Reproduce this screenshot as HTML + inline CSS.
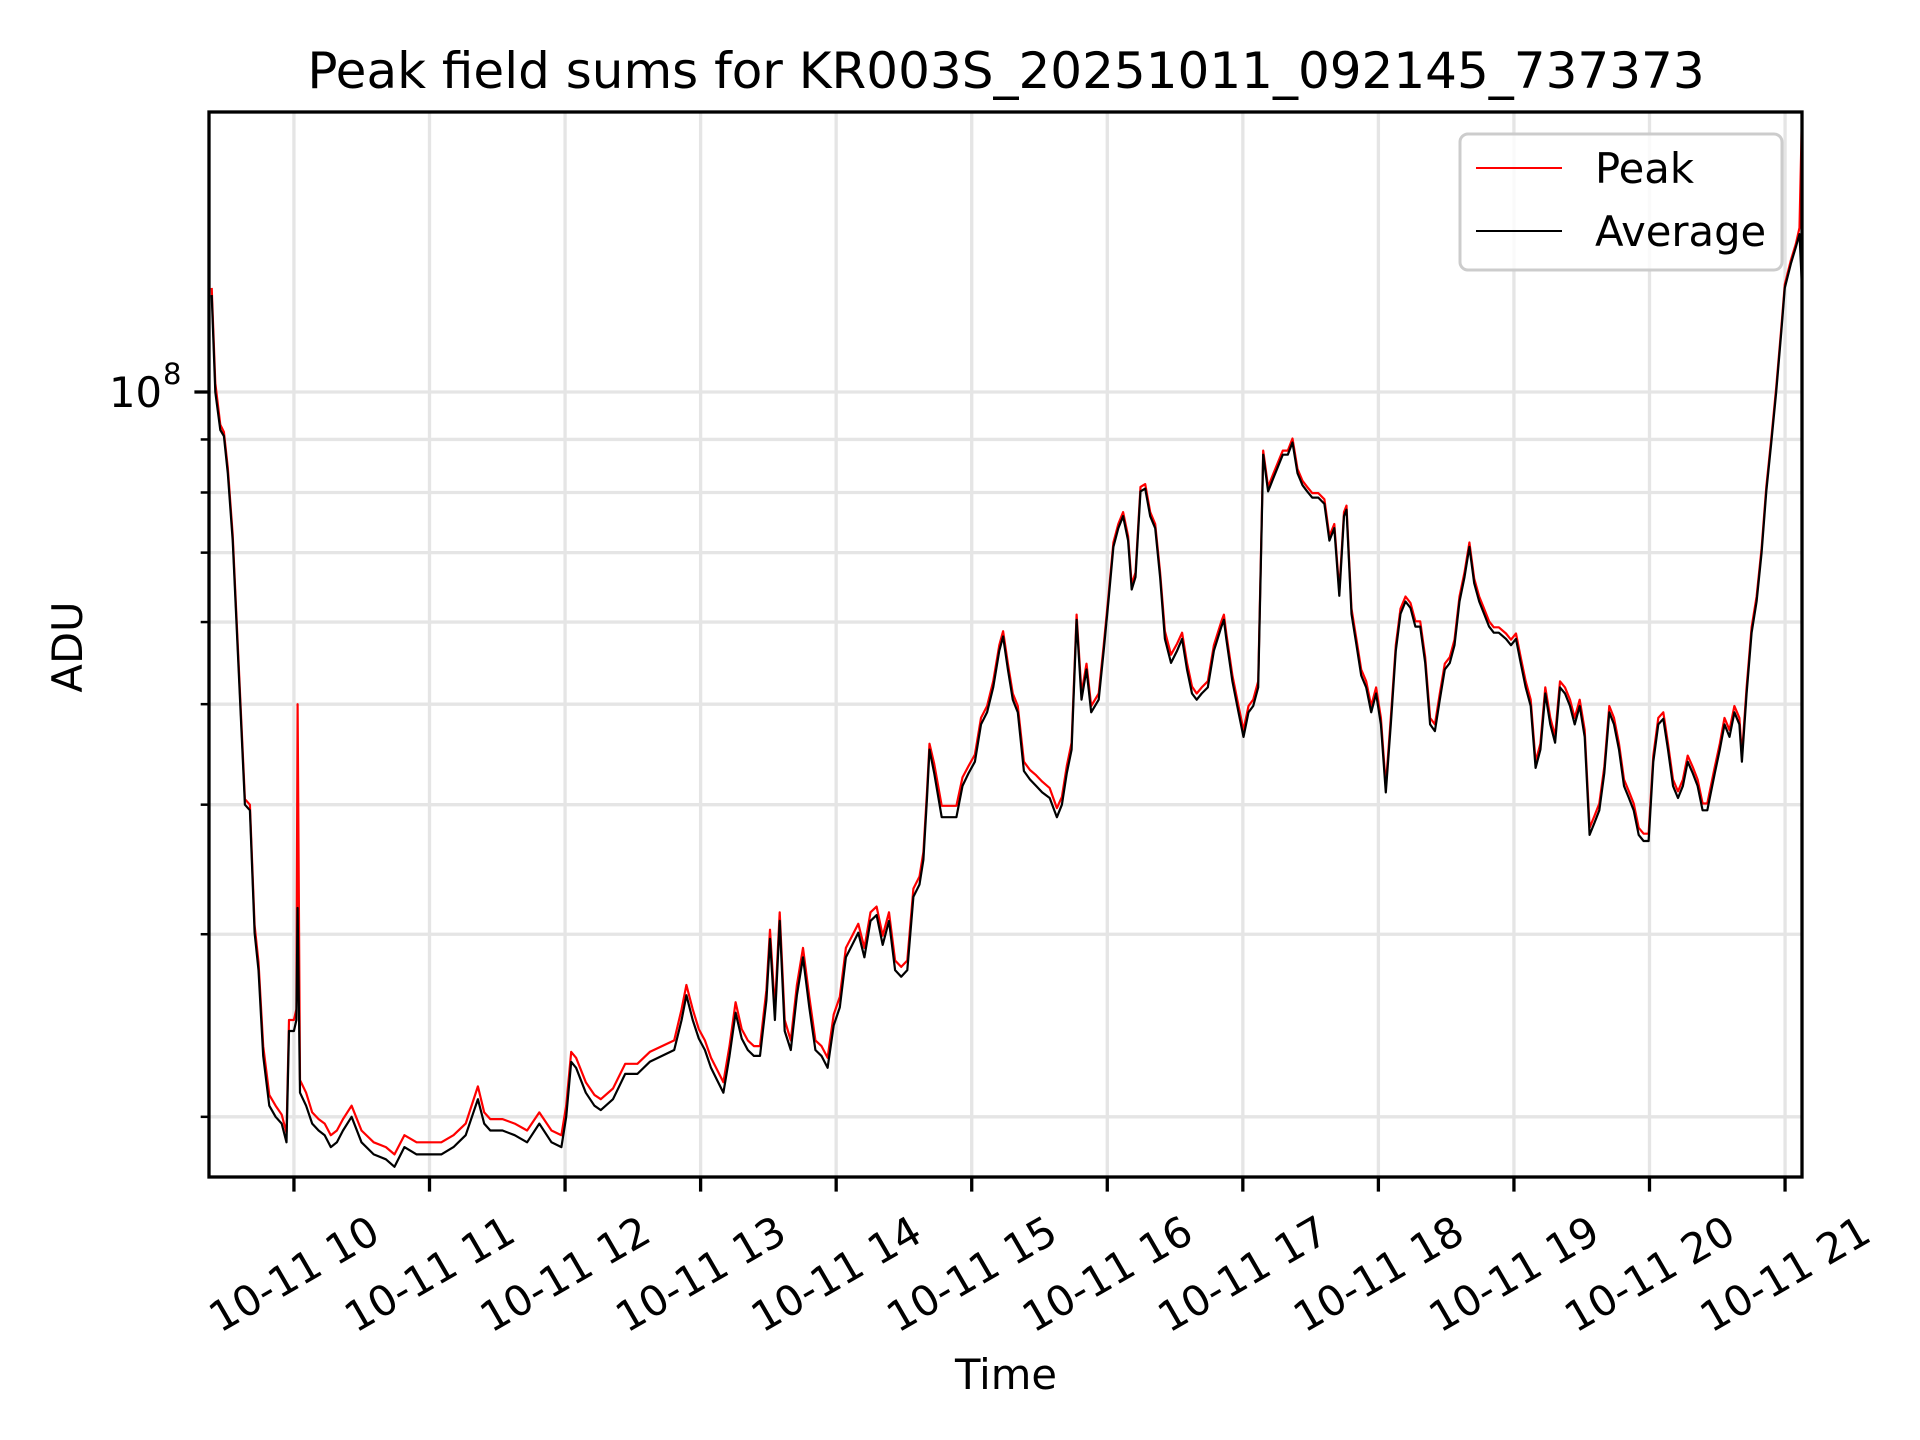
<!DOCTYPE html>
<html><head><meta charset="utf-8"><style>
html,body{margin:0;padding:0;background:#fff;}
svg{display:block;font-family:"DejaVu Sans","Liberation Sans",sans-serif;}
</style></head><body>
<svg id="chart" width="1920" height="1440" viewBox="0 0 1920 1440" xmlns="http://www.w3.org/2000/svg">
<rect x="0" y="0" width="1920" height="1440" fill="#fff"/>
<g id="grid"></g>
<g id="series"></g>
<g id="axes"></g>
<text x="1006" y="88" font-size="50" text-anchor="middle">Peak field sums for KR003S_20251011_092145_737373</text>
<text x="1006" y="1389" font-size="41.7" text-anchor="middle">Time</text>
<text x="0" y="0" font-size="41.7" text-anchor="middle" transform="translate(82,647) rotate(-90)">ADU</text>
<g>
<rect x="1460" y="134" width="322" height="136" rx="8" fill="#fff" fill-opacity="0.8" stroke="#cccccc" stroke-width="3"/>
<line x1="1476" y1="168" x2="1562" y2="168" stroke="#ff0000" stroke-width="2"/>
<text x="1595" y="183" font-size="41.7">Peak</text>
<line x1="1476" y1="231" x2="1562" y2="231" stroke="#000" stroke-width="2"/>
<text x="1595" y="246" font-size="41.7">Average</text>
</g>
</svg>
<script>
// time in minutes after 09:00, values in units of 1e7 ADU
const times = [23.6,25.2,27.4,29.0,30.7,32.9,35.0,38.3,40.5,42.6,44.3,46.4,49.1,51.9,54.6,56.7,57.8,60.0,61.1,61.6,62.7,65.4,68.1,70.9,73.6,76.3,79.0,81.7,85.5,89.9,95.3,100.7,104.5,108.9,114.3,119.7,125.2,130.6,136.0,141.4,144.2,146.9,152.3,157.7,163.2,168.6,174.0,178.4,180.5,182.7,184.9,189.2,193.0,195.8,201.2,206.6,212.0,217.5,222.9,228.3,231.6,233.7,236.5,239.2,241.9,244.6,247.3,250.1,252.8,255.5,258.2,260.9,263.6,266.3,269.1,270.7,272.9,275.0,277.2,279.9,282.6,285.3,288.1,290.8,293.5,296.2,298.9,301.6,304.3,307.1,309.8,312.5,315.2,317.9,320.6,323.4,326.1,328.8,331.5,334.2,336.9,338.6,340.2,341.3,343.4,346.7,350.5,353.2,355.9,358.6,361.4,364.1,366.8,369.5,372.2,373.9,376.0,378.2,380.4,383.1,385.8,388.5,391.2,394.5,397.7,399.9,402.1,404.2,406.4,408.6,410.8,412.9,416.2,418.4,420.5,422.7,424.9,427.0,429.2,430.8,432.5,434.7,436.8,439.0,441.2,443.4,445.5,448.2,450.9,453.1,455.3,457.5,459.6,461.8,464.5,467.2,470.5,471.6,472.7,475.4,478.1,480.3,482.5,484.6,486.8,489.0,491.2,493.3,495.5,497.7,499.9,502.0,504.2,506.4,508.5,510.7,513.4,516.1,518.3,520.5,522.7,524.8,525.9,528.1,530.3,532.4,534.6,536.8,539.0,541.1,543.3,545.5,547.7,549.8,552.0,554.2,556.4,558.5,560.7,562.9,565.0,567.2,569.4,571.6,573.7,575.9,578.1,580.3,582.4,584.6,586.8,589.0,591.1,593.3,596.5,598.7,600.9,603.0,605.2,607.4,609.6,611.7,613.9,616.1,618.2,620.4,622.6,624.8,626.9,629.1,631.3,633.5,635.6,637.8,640.0,642.2,644.3,646.5,648.7,650.9,653.0,655.2,657.4,659.6,661.7,663.9,666.1,668.2,670.4,672.6,674.8,676.9,679.1,681.3,683.5,685.6,688.9,691.1,693.2,695.4,697.6,699.8,700.9,703.0,705.2,707.4,709.6,711.7,713.9,716.1,718.3,719.9,722.6,724.8,726.4,727.5];
const averageValues = [12.4,10.0,9.19,9.07,8.35,7.19,5.70,4.00,3.95,3.01,2.77,2.29,2.05,2.00,1.97,1.89,2.42,2.42,2.48,3.18,2.11,2.05,1.97,1.94,1.92,1.87,1.89,1.94,2.00,1.89,1.84,1.82,1.79,1.87,1.84,1.84,1.84,1.87,1.92,2.08,1.97,1.94,1.94,1.92,1.89,1.97,1.89,1.87,2.00,2.26,2.23,2.11,2.05,2.03,2.08,2.20,2.20,2.26,2.29,2.32,2.48,2.62,2.48,2.38,2.32,2.23,2.17,2.11,2.29,2.52,2.38,2.32,2.29,2.29,2.59,2.97,2.48,3.09,2.42,2.32,2.62,2.85,2.55,2.32,2.29,2.23,2.45,2.55,2.85,2.93,3.01,2.85,3.09,3.13,2.93,3.09,2.77,2.73,2.77,3.26,3.35,3.54,4.06,4.52,4.29,3.89,3.89,3.89,4.17,4.29,4.40,4.78,4.91,5.19,5.63,5.81,5.40,5.05,4.91,4.31,4.23,4.17,4.11,4.06,3.89,4.00,4.29,4.52,6.03,5.05,5.40,4.91,5.05,5.63,6.28,7.09,7.39,7.59,7.19,6.45,6.63,8.02,8.07,7.59,7.39,6.63,5.78,5.48,5.63,5.78,5.40,5.12,5.05,5.12,5.19,5.63,5.94,6.03,5.78,5.26,4.91,4.65,4.91,4.98,5.19,8.70,8.02,8.24,8.47,8.70,8.70,8.94,8.35,8.13,8.02,7.91,7.91,7.80,7.19,7.39,6.36,7.59,7.70,6.11,5.70,5.33,5.19,4.91,5.12,4.78,4.11,4.78,5.63,6.11,6.28,6.19,5.94,5.94,5.48,4.78,4.71,5.05,5.40,5.48,5.70,6.28,6.63,7.09,6.54,6.28,6.11,5.94,5.86,5.86,5.78,5.70,5.78,5.48,5.19,4.98,4.34,4.52,5.12,4.78,4.59,5.19,5.12,4.98,4.78,4.98,4.65,3.74,3.84,3.95,4.29,4.91,4.78,4.52,4.17,4.06,3.95,3.74,3.69,3.69,4.40,4.78,4.84,4.52,4.17,4.06,4.17,4.40,4.29,4.17,3.95,3.95,4.29,4.52,4.78,4.65,4.91,4.78,4.40,5.12,5.86,6.28,7.00,8.02,8.94,10.0,11.4,12.6,13.3,13.8,14.2,12.6];
const peakValues = [12.6,10.2,9.30,9.15,8.45,7.28,5.78,4.05,4.00,3.06,2.82,2.34,2.10,2.05,2.01,1.93,2.48,2.48,2.54,5.00,2.17,2.11,2.02,1.99,1.97,1.92,1.94,1.99,2.05,1.94,1.89,1.87,1.84,1.92,1.89,1.89,1.89,1.92,1.97,2.14,2.02,1.99,1.99,1.97,1.94,2.02,1.94,1.92,2.05,2.31,2.28,2.16,2.10,2.08,2.13,2.25,2.25,2.31,2.34,2.37,2.54,2.68,2.54,2.43,2.37,2.28,2.22,2.16,2.34,2.58,2.43,2.37,2.34,2.34,2.65,3.03,2.54,3.15,2.48,2.37,2.68,2.91,2.61,2.37,2.34,2.28,2.51,2.61,2.91,2.99,3.07,2.91,3.15,3.19,2.99,3.15,2.83,2.79,2.83,3.32,3.41,3.60,4.12,4.58,4.38,3.99,3.99,3.99,4.25,4.36,4.47,4.85,4.98,5.26,5.70,5.88,5.47,5.12,4.98,4.40,4.32,4.27,4.21,4.15,3.97,4.07,4.36,4.59,6.10,5.12,5.47,4.98,5.12,5.70,6.35,7.16,7.46,7.66,7.26,6.52,6.70,8.10,8.15,7.66,7.46,6.70,5.88,5.58,5.72,5.86,5.48,5.20,5.12,5.19,5.26,5.70,6.01,6.10,5.85,5.33,4.98,4.72,4.98,5.05,5.26,8.78,8.10,8.32,8.55,8.78,8.78,9.02,8.43,8.21,8.10,7.99,7.99,7.88,7.26,7.46,6.43,7.66,7.77,6.18,5.77,5.40,5.26,4.98,5.19,4.85,4.17,4.85,5.70,6.18,6.35,6.26,6.01,6.01,5.55,4.85,4.78,5.12,5.47,5.55,5.77,6.35,6.70,7.16,6.61,6.35,6.18,6.01,5.93,5.93,5.85,5.77,5.85,5.55,5.26,5.05,4.40,4.58,5.19,4.85,4.66,5.26,5.19,5.05,4.85,5.05,4.72,3.80,3.90,4.01,4.35,4.98,4.85,4.58,4.23,4.12,4.01,3.80,3.75,3.75,4.46,4.85,4.91,4.58,4.23,4.12,4.23,4.46,4.35,4.23,4.01,4.01,4.35,4.58,4.85,4.72,4.98,4.85,4.46,5.19,5.93,6.35,7.07,8.10,9.02,10.1,11.5,12.7,13.4,13.9,14.4,18.6];
const hourTicks = [10,11,12,13,14,15,16,17,18,19,20,21];
const hourLabels = ["10-11 10","10-11 11","10-11 12","10-11 13","10-11 14","10-11 15","10-11 16","10-11 17","10-11 18","10-11 19","10-11 20","10-11 21"];
const yMinorTicks = [2,3,4,5,6,7,8,9];
const yMajorTicks = [10];

const NS = "http://www.w3.org/2000/svg";
const X0 = 209, X1 = 1802, Y0 = 112, Y1 = 1177;
const T0 = 22.4, T1 = 727.5;
function xScale(m){ return X0 + (m - T0) * (X1 - X0) / (T1 - T0); }
function yScale(v){ return 392 - (Math.log10(v) - 1) * 1037; }
function mk(tag, attrs, parent){ const e = document.createElementNS(NS, tag); for (const k in attrs) e.setAttribute(k, attrs[k]); parent.appendChild(e); return e; }

const grid = document.getElementById('grid');
const axes = document.getElementById('axes');
const series = document.getElementById('series');

hourTicks.forEach((h, i) => {
  const x = xScale(h * 60 - 540);
  const gl = mk('line', {x1:x, y1:Y0, x2:x, y2:Y1, stroke:'#e5e5e5', 'stroke-width':3.3}, grid);
  
  
  const tk = mk('line', {x1:x, y1:Y1, x2:x, y2:Y1 + 14.6, stroke:'#000', 'stroke-width':3.3}, axes);
  
  
  const cy = 1274;
  const t = mk('text', {x:x, y:cy, 'font-size':41.7, 'text-anchor':'middle', 'dominant-baseline':'central', transform:'rotate(-30 ' + x + ' ' + cy + ')'}, axes);
  t.textContent = hourLabels[i];
  
  
});

yMinorTicks.concat(yMajorTicks).forEach(v => {
  const y = yScale(v);
  const gl = mk('line', {x1:X0, y1:y, x2:X1, y2:y, stroke:'#e5e5e5', 'stroke-width':3.3}, grid);
  
  
});
yMinorTicks.forEach(v => {
  const y = yScale(v);
  const tk = mk('line', {x1:X0 - 8.3, y1:y, x2:X0, y2:y, stroke:'#000', 'stroke-width':2.5}, axes);
  
  
});
yMajorTicks.forEach(v => {
  const y = yScale(v);
  const tk = mk('line', {x1:X0 - 14.6, y1:y, x2:X0, y2:y, stroke:'#000', 'stroke-width':3.3}, axes);
  
  
  const t = mk('text', {x:162, y:y + 15, 'font-size':41.7, 'text-anchor':'end'}, axes);
  t.textContent = '10';
  
  
  const s = mk('text', {x:163, y:y - 8, 'font-size':29}, axes);
  s.textContent = '8';
  
  
});

const clip = mk('clipPath', {id:'plotclip'}, document.getElementById('chart'));
mk('rect', {x:X0, y:Y0, width:X1 - X0, height:Y1 - Y0}, clip);
series.setAttribute('clip-path', 'url(#plotclip)');

function pathFor(vals){ return vals.map((v, i) => (i ? 'L' : 'M') + xScale(times[i]).toFixed(1) + ' ' + yScale(v).toFixed(1)).join(' '); }
const pk = mk('path', {d:pathFor(peakValues), fill:'none', stroke:'#ff0000', 'stroke-width':2.2, 'stroke-linejoin':'round'}, series);


const av = mk('path', {d:pathFor(averageValues), fill:'none', stroke:'#000', 'stroke-width':2.2, 'stroke-linejoin':'round'}, series);



const frame = mk('rect', {x:X0, y:Y0, width:X1 - X0, height:Y1 - Y0, fill:'none', stroke:'#000', 'stroke-width':3.3}, axes);


</script>
</body></html>
